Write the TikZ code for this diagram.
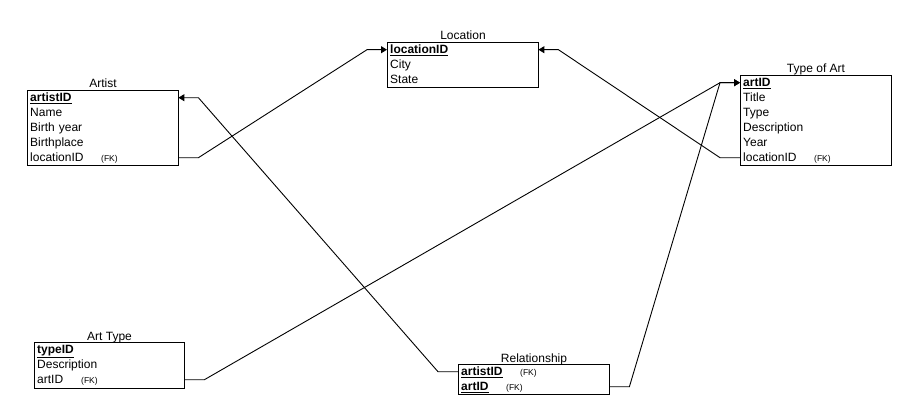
\documentclass[tikz,border=0pt]{standalone}
\usepackage{fontspec}
\setmainfont{Liberation Sans}
\usetikzlibrary{calc,arrows.meta}
\newcommand{\fk}{{\fontsize{8.5pt}{10pt}\selectfont (FK)}}
\newcommand{\pk}[1]{\textbf{\underline{#1}}}
\begin{document}
\begin{tikzpicture}[x=1pt,y=-1pt,
  tablebox/.style={draw, line width=1pt, inner sep=0pt, anchor=north west},
  rowtxt/.style={inner xsep=3pt, inner ysep=0pt, anchor=north west, minimum height=15pt,
    text height=10pt, text depth=2pt, align=left, font=\fontsize{12pt}{15pt}\selectfont},
  ttl/.style={anchor=base, inner sep=0pt, font=\fontsize{12pt}{15pt}\selectfont},
  link/.style={line width=0.9pt, -{Triangle[length=6pt,width=7pt]}}
]
\useasboundingbox (0,0) rectangle (916,420);

% Artist
\node[tablebox, minimum width=151pt, minimum height=75pt] (artist) at (27,90) {};
\node[ttl] (artistT) at ($(artist.north)+(0,-2)$) {Artist};
\foreach \i/\t in {1/{\pk{artistID}},2/Name,3/Birth year,4/Birthplace,5/{\makebox[71pt][l]{locationID}\fk}}{
  \node[rowtxt, minimum width=151pt, text width=145pt] (a\i) at (27,{90+15*(\i-1)}) {\t};
}

% Location
\node[tablebox, minimum width=151pt, minimum height=45pt] (loc) at (387,42) {};
\node[ttl] (locT) at ($(loc.north)+(0,-2)$) {Location};
\foreach \i/\t in {1/{\pk{locationID}},2/City,3/State}{
  \node[rowtxt, minimum width=151pt, text width=145pt] (l\i) at (387,{42+15*(\i-1)}) {\t};
}

% Type of Art
\node[tablebox, minimum width=151pt, minimum height=90pt] (toa) at (740,75) {};
\node[ttl] (toaT) at ($(toa.north)+(0,-2)$) {Type of Art};
\foreach \i/\t in {1/{\pk{artID}},2/Title,3/Type,4/Description,5/Year,6/{\makebox[71pt][l]{locationID}\fk}}{
  \node[rowtxt, minimum width=151pt, text width=145pt] (t\i) at (740,{75+15*(\i-1)}) {\t};
}

% Art Type
\node[tablebox, minimum width=150pt, minimum height=46pt] (at) at (34,342) {};
\node[ttl] (atT) at ($(at.north)+(0,-2)$) {Art Type};
\foreach \i/\t in {1/{\pk{typeID}},2/Description,3/{\makebox[44pt][l]{artID}\fk}}{
  \node[rowtxt, minimum width=150pt, text width=144pt] (s\i) at (34,{342+15*(\i-1)}) {\t};
}

% Relationship
\node[tablebox, minimum width=151pt, minimum height=30pt] (rel) at (458,364) {};
\node[ttl] (relT) at ($(rel.north)+(0,-2)$) {Relationship};
\node[rowtxt, minimum width=151pt, text width=145pt] (r1) at (458,364) {\makebox[59pt][l]{\pk{artistID}}\fk};
\node[rowtxt, minimum width=151pt, text width=145pt] (r2) at (458,379) {\makebox[45pt][l]{\pk{artID}}\fk};

% connectors
\draw[link] (a5.east) -- ++(20,0) -- ($(l1.west)+(-20,0)$) -- (l1.west);
\draw[link] (t6.west) -- ++(-20,0) -- ($(l1.east)+(20,0)$) -- (l1.east);
\draw[link] (r1.west) -- ++(-20,0) -- ($(a1.east)+(20,0)$) -- (a1.east);
\draw[link] (s3.east) -- ++(20,0) -- ($(t1.west)+(-20,0)$) -- (t1.west);
\draw[link] (r2.east) -- ++(20,0) -- ($(t1.west)+(-20,0)$) -- (t1.west);
\end{tikzpicture}
\end{document}
